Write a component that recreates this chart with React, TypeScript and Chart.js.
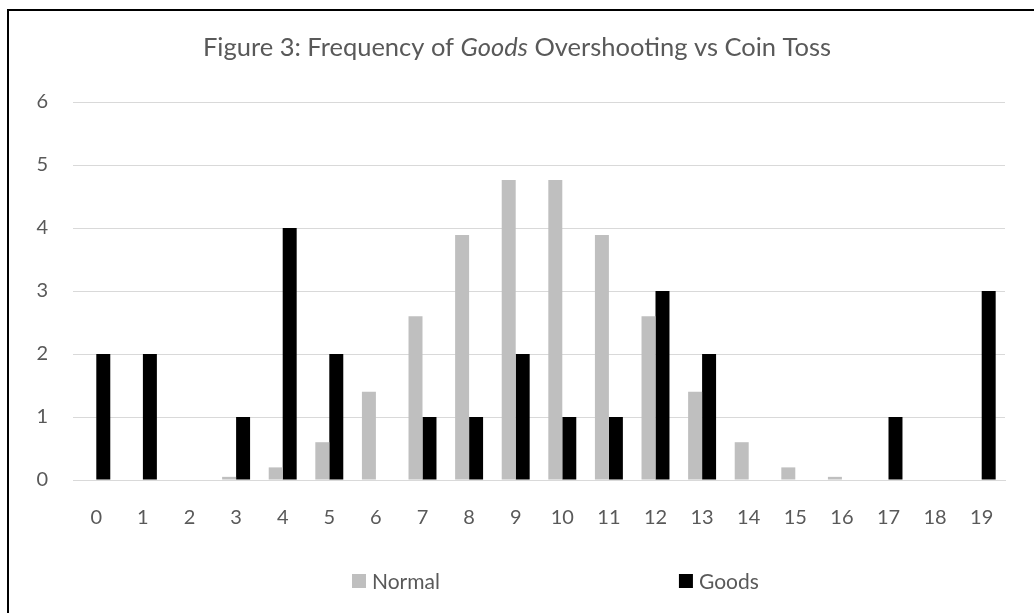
import React, { useEffect, useRef } from "react";
import { Chart, registerables } from "chart.js";

Chart.register(...registerables);

const categories = ["0","1","2","3","4","5","6","7","8","9","10","11","12","13","14","15","16","17","18","19"];
const normalValues = [0, 0, 0, 0.05, 0.2, 0.6, 1.4, 2.6, 3.89, 4.76, 4.76, 3.89, 2.6, 1.4, 0.6, 0.2, 0.05, 0, 0, 0];
const goodsValues = [2, 2, 0, 1, 4, 2, 0, 1, 1, 2, 1, 1, 3, 2, 0, 0, 0, 1, 0, 3];
const seriesNames = ["Normal", "Goods"];
const titleParts = [
  { text: "Figure 3: Frequency of ", italic: false },
  { text: "Goods", italic: true },
  { text: " Overshooting vs Coin Toss", italic: false },
];

const FONT = "Lato, 'Open Sans', sans-serif";
const TEXT = "#595959";

const decor = {
  id: "decor",
  afterDraw(chart: any) {
    const ctx = chart.ctx as CanvasRenderingContext2D;
    ctx.save();
    // border
    ctx.fillStyle = "#000";
    ctx.fillRect(7, 9, chart.width, 2);
    ctx.fillRect(7, 9, 2, chart.height);
    // title
    const size = 25.5;
    let total = 0;
    const widths = titleParts.map((p) => {
      ctx.font = `${p.italic ? "italic " : ""}${size}px ${FONT}`;
      const w = ctx.measureText(p.text).width;
      total += w;
      return w;
    });
    let x = chart.width / 2 - total / 2;
    ctx.fillStyle = TEXT;
    ctx.textBaseline = "middle";
    ctx.textAlign = "left";
    titleParts.forEach((p, i) => {
      ctx.font = `${p.italic ? "italic " : ""}${size}px ${FONT}`;
      ctx.fillText(p.text, x, 48);
      x += widths[i];
    });
    // legend
    ctx.font = `21px ${FONT}`;
    let lx = 352;
    const ly = 581;
    chart.data.datasets.forEach((ds: any) => {
      ctx.fillStyle = ds.backgroundColor;
      ctx.fillRect(lx, ly - 7, 14, 14);
      ctx.fillStyle = TEXT;
      ctx.fillText(ds.label, lx + 20, ly + 1);
      lx += 20 + ctx.measureText(ds.label).width + 239;
    });
    ctx.restore();
  },
};

export default function App() {
  const ref = useRef<HTMLCanvasElement>(null);
  useEffect(() => {
    document.body.style.margin = "0";
    document.body.style.overflow = "hidden";
    const chart = new Chart(ref.current!, {
      type: "bar",
      data: {
        labels: categories,
        datasets: [
          { label: seriesNames[0], data: normalValues, backgroundColor: "#bfbfbf" },
          { label: seriesNames[1], data: goodsValues, backgroundColor: "#000000" },
        ],
      },
      options: {
        animation: false,
        responsive: false,
        maintainAspectRatio: false,
        layout: { padding: { top: 102, left: 0, right: 29, bottom: 0 } },
        datasets: { bar: { categoryPercentage: 0.6, barPercentage: 1 } },
        plugins: { legend: { display: false }, title: { display: false }, tooltip: { enabled: false } },
        scales: {
          x: {
            grid: { display: false, drawTicks: false },
            border: { display: true, color: "#d9d9d9", width: 1 },
            ticks: { color: TEXT, font: { family: FONT, size: 20 }, padding: 26, maxRotation: 0 },
            afterFit(s: any) { s.height = 133; },
          },
          y: {
            min: 0,
            max: 6,
            ticks: { stepSize: 1, color: TEXT, font: { family: FONT, size: 20 }, padding: 25 },
            grid: { color: "#d9d9d9", drawTicks: false },
            border: { display: false },
            afterFit(s: any) { s.width = 73; },
          },
        },
      },
      plugins: [decor],
    });
    return () => chart.destroy();
  }, []);
  return <canvas ref={ref} width={1034} height={613} style={{ display: "block" }} />;
}
